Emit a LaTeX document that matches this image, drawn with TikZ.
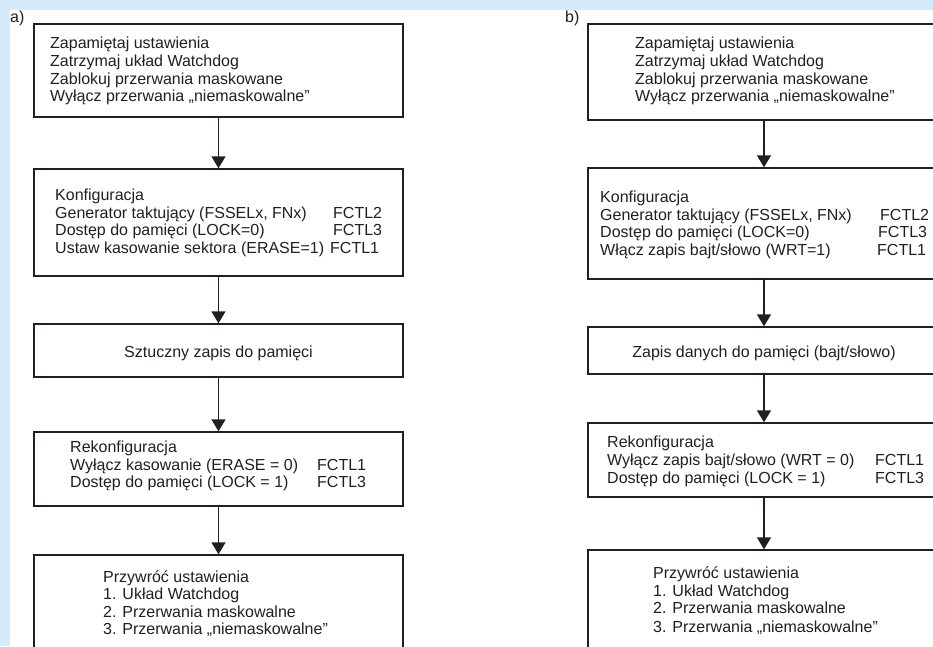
\documentclass[tikz,border=0pt]{standalone}
\usepackage{fontspec}
\setmainfont{Liberation Sans}
\usetikzlibrary{arrows.meta}
\definecolor{bgblue}{RGB}{214,235,249}
\definecolor{ink}{RGB}{35,31,32}
\tikzset{
  box/.style={draw=ink, line width=1.4pt, inner sep=0pt, rectangle},
  txt/.style={anchor=base west, inner sep=0pt, text=ink, font=\fontsize{16}{18}\selectfont},
  ctxt/.style={anchor=base, inner sep=0pt, text=ink, font=\fontsize{16}{18}\selectfont},
  flow/.style={draw=ink, line width=1.4pt, -{Triangle[width=14pt,length=12pt]}}
}
\begin{document}
\begin{tikzpicture}[x=1pt, y=-1pt]
\useasboundingbox (0,0) rectangle (933,646);
\clip (0,0) rectangle (933,646);
% frame: blue strips on top and left
\fill[bgblue] (0,0) rectangle (933,646);
\fill[white] (10,10) rectangle (933,646);

% ---------- column a) ----------
\node[txt] (la) at (10,22) {a)};
\node[box, minimum width=369pt, minimum height=93pt]  (a1) at (218.5,70.5) {};
\node[box, minimum width=369pt, minimum height=107pt] (a2) at (218.5,222.5) {};
\node[box, minimum width=369pt, minimum height=53pt]  (a3) at (218.5,350.5) {};
\node[box, minimum width=369pt, minimum height=74pt]  (a4) at (218.5,469) {};
\node[box, minimum width=369pt, minimum height=145pt] (a5) at (218.5,627.5) {};

\node[txt] (a1t1) at (50,48)  {Zapamiętaj ustawienia};
\node[txt] (a1t2) at (50,66)  {Zatrzymaj układ Watchdog};
\node[txt] (a1t3) at (50,84)  {Zablokuj przerwania maskowane};
\node[txt] (a1t4) at (50,101) {Wyłącz przerwania „niemaskowalne”};

\node[txt] (a2t1) at (55,200) {Konfiguracja};
\node[txt] (a2t2) at (55,218) {Generator taktujący (FSSELx, FNx)};
\node[txt] (a2t3) at (55,235) {Dostęp do pamięci (LOCK=0)};
\node[txt] (a2t4) at (55,253) {Ustaw kasowanie sektora (ERASE=1)};
\node[txt] (a2r2) at (333,218) {FCTL2};
\node[txt] (a2r3) at (333,235) {FCTL3};
\node[txt] (a2r4) at (330,253) {FCTL1};

\node[ctxt] (a3t1) at (218.5,357) {Sztuczny zapis do pamięci};

\node[txt] (a4t1) at (70,452) {Rekonfiguracja};
\node[txt] (a4t2) at (70,470) {Wyłącz kasowanie (ERASE = 0)};
\node[txt] (a4t3) at (70,487) {Dostęp do pamięci (LOCK = 1)};
\node[txt] (a4r2) at (317,470) {FCTL1};
\node[txt] (a4r3) at (317,487) {FCTL3};

\node[txt] (a5t1) at (103,582) {Przywróć ustawienia};
\node[txt] (a5t2) at (103,599) {1. Układ Watchdog};
\node[txt] (a5t3) at (103,617) {2. Przerwania maskowalne};
\node[txt] (a5t4) at (103,634) {3. Przerwania „niemaskowalne”};

\draw[flow] (a1.south) -- (a2.north);
\draw[flow] (a2.south) -- (a3.north);
\draw[flow] (a3.south) -- (a4.north);
\draw[flow] (a4.south) -- (a5.north);

% ---------- column b) ----------
\node[txt] (lb) at (565,22) {b)};
\node[box, minimum width=352pt, minimum height=96pt]  (b1) at (764,72) {};
\node[box, minimum width=352pt, minimum height=111pt] (b2) at (764,223.5) {};
\node[box, minimum width=352pt, minimum height=47pt]  (b3) at (764,350.5) {};
\node[box, minimum width=352pt, minimum height=74pt]  (b4) at (764,460) {};
\node[box, minimum width=352pt, minimum height=150pt] (b5) at (764,625) {};

\node[txt] (b1t1) at (635,48)  {Zapamiętaj ustawienia};
\node[txt] (b1t2) at (635,66)  {Zatrzymaj układ Watchdog};
\node[txt] (b1t3) at (635,84)  {Zablokuj przerwania maskowane};
\node[txt] (b1t4) at (635,101) {Wyłącz przerwania „niemaskowalne”};

\node[txt] (b2t1) at (600,202) {Konfiguracja};
\node[txt] (b2t2) at (600,220) {Generator taktujący (FSSELx, FNx)};
\node[txt] (b2t3) at (600,237) {Dostęp do pamięci (LOCK=0)};
\node[txt] (b2t4) at (600,255) {Włącz zapis bajt/słowo (WRT=1)};
\node[txt] (b2r2) at (880,220) {FCTL2};
\node[txt] (b2r3) at (878,237) {FCTL3};
\node[txt] (b2r4) at (877,255) {FCTL1};

\node[ctxt] (b3t1) at (764,357) {Zapis danych do pamięci (bajt/słowo)};

\node[txt] (b4t1) at (607,447) {Rekonfiguracja};
\node[txt] (b4t2) at (607,465) {Wyłącz zapis bajt/słowo (WRT = 0)};
\node[txt] (b4t3) at (607,483) {Dostęp do pamięci (LOCK = 1)};
\node[txt] (b4r2) at (875,465) {FCTL1};
\node[txt] (b4r3) at (875,483) {FCTL3};

\node[txt] (b5t1) at (653,578) {Przywróć ustawienia};
\node[txt] (b5t2) at (653,596) {1. Układ Watchdog};
\node[txt] (b5t3) at (653,613) {2. Przerwania maskowalne};
\node[txt] (b5t4) at (653,632) {3. Przerwania „niemaskowalne”};

\draw[flow] (b1.south) -- (b2.north);
\draw[flow] (b2.south) -- (b3.north);
\draw[flow] (b3.south) -- (b4.north);
\draw[flow] (b4.south) -- (b5.north);
\end{tikzpicture}
\end{document}
